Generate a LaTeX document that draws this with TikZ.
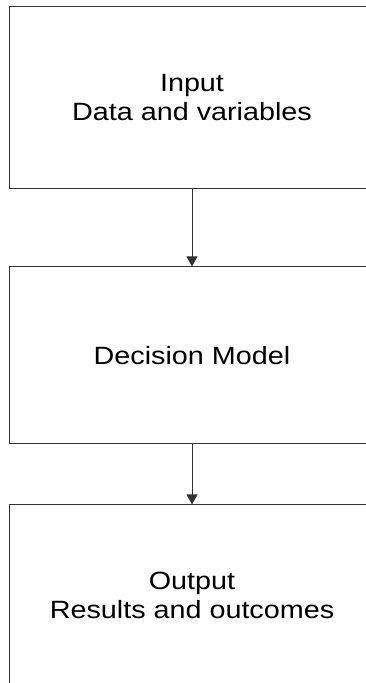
\documentclass[tikz,border=0pt]{standalone}
\usepackage{fontspec}
\newfontfamily\boxfont[FakeStretch=1.15]{Liberation Sans}
\usetikzlibrary{arrows.meta}
\tikzset{
  stage/.style={draw=black!80, line width=1pt, minimum width=366pt, align=center,
    font=\boxfont\fontsize{25}{29}\selectfont, inner sep=0pt},
  flow/.style={draw=black!80, line width=1pt, -{Triangle[width=11pt,length=10pt]}}
}
\begin{document}
\begin{tikzpicture}[x=1pt, y=1pt]
	  \useasboundingbox (0,0) rectangle (366,683);
	  \clip (0,0) rectangle (366,683);
	  \node[stage, minimum height=182.5pt] (input) at (192,585.25) {Input\\Data and variables};
	  \node[stage, minimum height=177pt] (model) at (192,327.5) {Decision Model};
	  \node[stage, minimum height=180pt] (output) at (192,88) {Output\\Results and outcomes};
	  \draw[flow] (input) -- (model);
	  \draw[flow] (model) -- (output);
	\end{tikzpicture}
\end{document}
